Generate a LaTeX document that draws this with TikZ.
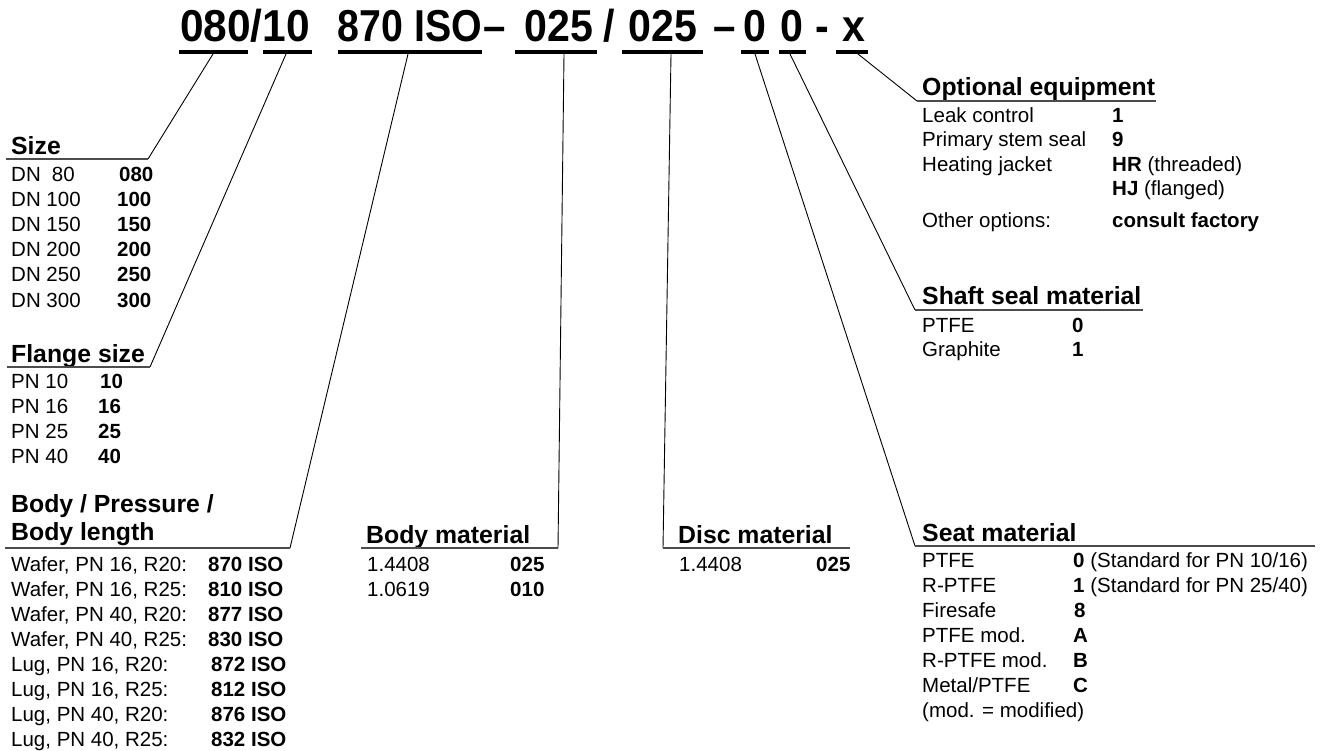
\documentclass[tikz,border=0pt]{standalone}
\usepackage{fontspec}
\setmainfont{Liberation Sans}
\usepackage{graphicx}
\tikzset{
  body/.style={anchor=base west, inner sep=0pt, font=\fontsize{20.5}{24}\selectfont},
  bcode/.style={anchor=base west, inner sep=0pt, font=\fontsize{20.5}{24}\selectfont\bfseries},
  head/.style={anchor=base west, inner sep=0pt, font=\fontsize{24.8}{28}\selectfont\bfseries},
  code/.style={anchor=base, inner sep=0pt, font=\fontsize{44.7}{50}\selectfont\bfseries},
  codebar/.style={line width=3.5pt},
  hline/.style={line width=1.3pt, draw=black!70},
  conn/.style={line width=0.9pt},
}
\begin{document}
\begin{tikzpicture}[x=1pt,y=-1pt]
\path[use as bounding box] (0,0) rectangle (1322,751);

% ---- code line
\node[code] (c1) at (245,42) {\scalebox{0.95}[1]{080/10}};
\node[code] (c2) at (410,42) {\scalebox{0.88}[1]{870 ISO}};
\node[code] (c3) at (495,42) {\scalebox{0.9}[1]{--}};
\node[code] (c4) at (559,42) {\scalebox{0.92}[1]{025}};
\node[code] (c5) at (609,42) {\scalebox{0.92}[1]{/}};
\node[code] (c6) at (663,42) {\scalebox{0.92}[1]{025}};
\node[code] (c7) at (725,42) {\scalebox{0.9}[1]{--}};
\node[code] (c8) at (755,42) {\scalebox{0.92}[1]{0}};
\node[code] (c9) at (792,42) {\scalebox{0.92}[1]{0}};
\node[code] (c10) at (822,42) {\scalebox{0.92}[1]{-}};
\node[code] (c11) at (854,42) {\scalebox{0.92}[1]{x}};

% code underlines
\draw[codebar] (179,52) -- (248,52);
\draw[codebar] (263,52) -- (312,52);
\draw[codebar] (338,52) -- (482,52);
\draw[codebar] (515,52) -- (597,52);
\draw[codebar] (622,52) -- (703,52);
\draw[codebar] (741,52) -- (769,52);
\draw[codebar] (779,52) -- (806,52);
\draw[codebar] (836,52) -- (868,52);

% connector points
\coordinate (p1) at (213,54);  \coordinate (q1) at (148,159);
\coordinate (p2) at (286,54);  \coordinate (q2) at (150,367);
\coordinate (p3) at (408,54);  \coordinate (q3) at (290,548);
\coordinate (p4) at (564,54);  \coordinate (q4) at (558,548);
\coordinate (p5) at (671,54);  \coordinate (q5) at (663,548);
\coordinate (p6) at (755,54);  \coordinate (q6) at (915,546);
\coordinate (p7) at (790,54);  \coordinate (q7) at (915,310);
\coordinate (p8) at (858,54);  \coordinate (q8) at (917,101);

\draw[conn] (p1) -- (q1);
\draw[conn] (p2) -- (q2);
\draw[conn] (p3) -- (q3);
\draw[conn] (p4) -- (q4);
\draw[conn] (p5) -- (q5);
\draw[conn] (p6) -- (q6);
\draw[conn] (p7) -- (q7);
\draw[conn] (p8) -- (q8);

% ---- Size
\node[head] (hsize) at (11,155) {Size};
\draw[hline] (6,159) -- (q1);
\node[body] (s1) at (11,182) {DN\hspace{5.5pt} 80};  \node[bcode] (sc1) at (119,182) {080};
\node[body] (s2) at (11,207) {DN 100}; \node[bcode] (sc2) at (117,207) {100};
\node[body] (s3) at (11,232) {DN 150}; \node[bcode] (sc3) at (117,232) {150};
\node[body] (s4) at (11,257) {DN 200}; \node[bcode] (sc4) at (117,257) {200};
\node[body] (s5) at (11,282) {DN 250}; \node[bcode] (sc5) at (117,282) {250};
\node[body] (s6) at (11,307) {DN 300}; \node[bcode] (sc6) at (117,307) {300};

% ---- Flange size
\node[head] (hflange) at (11,362) {Flange size};
\draw[hline] (7,367) -- (q2);
\node[body] (f1) at (11,388) {PN 10}; \node[bcode] (fc1) at (100,388) {10};
\node[body] (f2) at (11,413) {PN 16}; \node[bcode] (fc2) at (98,413) {16};
\node[body] (f3) at (11,438) {PN 25}; \node[bcode] (fc3) at (98,438) {25};
\node[body] (f4) at (11,463) {PN 40}; \node[bcode] (fc4) at (98,463) {40};

% ---- Body / Pressure / Body length
\node[head] (hbody1) at (11,512) {Body / Pressure /};
\node[head] (hbody2) at (11,540) {Body length};
\draw[hline] (5,548) -- (q3);
\node[body] (b1) at (11,571) {Wafer, PN 16, R20:}; \node[bcode] (bc1) at (208,571) {870 ISO};
\node[body] (b2) at (11,596) {Wafer, PN 16, R25:}; \node[bcode] (bc2) at (208,596) {810 ISO};
\node[body] (b3) at (11,621) {Wafer, PN 40, R20:}; \node[bcode] (bc3) at (208,621) {877 ISO};
\node[body] (b4) at (11,646) {Wafer, PN 40, R25:}; \node[bcode] (bc4) at (208,646) {830 ISO};
\node[body] (b5) at (11,671) {Lug, PN 16, R20:}; \node[bcode] (bc5) at (211,671) {872 ISO};
\node[body] (b6) at (11,696) {Lug, PN 16, R25:}; \node[bcode] (bc6) at (211,696) {812 ISO};
\node[body] (b7) at (11,721) {Lug, PN 40, R20:}; \node[bcode] (bc7) at (211,721) {876 ISO};
\node[body] (b8) at (11,746) {Lug, PN 40, R25:}; \node[bcode] (bc8) at (211,746) {832 ISO};

% ---- Body material
\node[head] (hbm) at (366,543) {Body material};
\draw[hline] (361,548) -- (q4);
\node[body] (bm1) at (367,571) {1.4408}; \node[bcode] (bmc1) at (510,571) {025};
\node[body] (bm2) at (367,596) {1.0619}; \node[bcode] (bmc2) at (510,596) {010};

% ---- Disc material
\node[head] (hdm) at (678,543) {Disc material};
\draw[hline] (q5) -- (850,548);
\node[body] (dm1) at (679,571) {1.4408}; \node[bcode] (dmc1) at (816,571) {025};

% ---- Seat material
\node[head] (hsm) at (922,541) {Seat material};
\draw[hline] (q6) -- (1315,546);
\node[body] (sm1) at (922,567) {PTFE};        \node[body] (smc1) at (1073,567) {\textbf{0} (Standard for PN 10/16)};
\node[body] (sm2) at (922,592) {R-PTFE};      \node[body] (smc2) at (1073,592) {\textbf{1} (Standard for PN 25/40)};
\node[body] (sm3) at (922,617) {Firesafe};    \node[bcode] (smc3) at (1074,617) {8};
\node[body] (sm4) at (922,642) {PTFE mod.};   \node[bcode] (smc4) at (1073,642) {A};
\node[body] (sm5) at (922,667) {R-PTFE mod.}; \node[bcode] (smc5) at (1073,667) {B};
\node[body] (sm6) at (922,692) {Metal/PTFE};  \node[bcode] (smc6) at (1073,692) {C};
\node[body] (sm7) at (922,717) {(mod. = modified)};

% ---- Shaft seal material
\node[head] (hss) at (922,305) {Shaft seal material};
\draw[hline] (q7) -- (1143,310);
\node[body] (ss1) at (922,332) {PTFE};     \node[bcode] (ssc1) at (1072,332) {0};
\node[body] (ss2) at (922,356) {Graphite}; \node[bcode] (ssc2) at (1072,356) {1};

% ---- Optional equipment
\node[head] (hoe) at (922,96) {Optional equipment};
\draw[hline] (q8) -- (1156,101);
\node[body] (o1) at (922,123) {Leak control};      \node[bcode] (oc1) at (1112,123) {1};
\node[body] (o2) at (922,147) {Primary stem seal}; \node[bcode] (oc2) at (1112,147) {9};
\node[body] (o3) at (922,172) {Heating jacket};    \node[body] (oc3) at (1112,172) {\textbf{HR} (threaded)};
\node[body] (oc4) at (1112,196) {\textbf{HJ} (flanged)};
\node[body] (o5) at (922,228) {Other options:};    \node[bcode] (oc5) at (1112,228) {consult factory};
\end{tikzpicture}
\end{document}
